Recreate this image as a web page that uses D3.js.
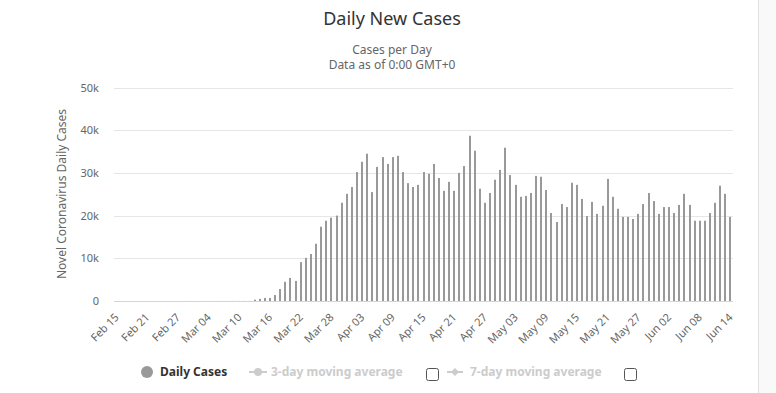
<!DOCTYPE html>
<html>
<head>
<meta charset="utf-8">
<script src="https://cdn.jsdelivr.net/npm/d3@7"></script>
<style>
  body { margin: 0; background: #fff; }
  svg { display: block; font-family: "Noto Sans", "DejaVu Sans", sans-serif; }
</style>
</head>
<body>
<svg id="chart"></svg>
<script>
// categories: one per day, Feb 15 .. Jun 14 2020
var startDay = new Date(2020, 1, 15), endDay = new Date(2020, 5, 15);
var days = d3.timeDay.range(startDay, endDay);

// daily new cases
var dailyCases = [
  0, 0, 0, 0, 0, 0, 0, 0, 0, 0, 3, 0, 1, 1, 8,
  2, 4, 5, 6, 8, 10, 12, 14, 16, 18, 22, 26,
  300, 500, 700, 700, 1400, 2800, 4500, 5400, 4700, 9100, 10100, 11000, 13400,
  17400, 18800, 19500, 20000, 23000, 25100, 26700, 30200, 32600, 34500, 25500,
  31400, 33700, 32100, 33700, 34000, 30200, 27600, 26700, 27200,
  30200, 29800, 32100, 28800, 25800, 27900, 25800, 30000, 31600, 38700, 35200,
  26300, 23000, 25300, 28400, 30700, 35900, 29500, 27200, 24400, 24600, 25300,
  29300, 29100, 26000, 20600, 18500, 22700, 22000, 27700, 27200,
  23900, 19900, 23200, 20400, 22300, 28600, 24400, 21600, 19700, 19700, 19200,
  20400, 22700, 25300, 23400, 20400, 22000, 22000, 20600, 22500, 25100, 22500,
  18800, 18800, 18800, 20600, 23000, 27000, 25100, 19700
];

var tickLabels = ["Feb 15", "Feb 21", "Feb 27", "Mar 04", "Mar 10", "Mar 16", "Mar 22",
  "Mar 28", "Apr 03", "Apr 09", "Apr 15", "Apr 21", "Apr 27", "May 03", "May 09",
  "May 15", "May 21", "May 27", "Jun 02", "Jun 08", "Jun 14"];
var yTicks = [0, 10000, 20000, 30000, 40000, 50000];

var legendItems = ["Daily Cases", "3-day moving average", "7-day moving average"];

var width = 776, height = 393;
var fmt = d3.timeFormat("%b %d");

var svg = d3.select("#chart").attr("width", width).attr("height", height);

// scrollbar strip on the right
svg.append("rect").attr("x", 758).attr("y", 0).attr("width", 18).attr("height", height)
  .attr("fill", "#f9f9f9");
svg.append("line").attr("x1", 758.5).attr("x2", 758.5).attr("y1", 0).attr("y2", height)
  .attr("stroke", "#e2e2e2");

var x = d3.scaleBand().domain(d3.range(days.length)).range([114, 733]).padding(0);
var y = d3.scaleLinear().domain([0, 50000]).range([301, 87.5]);

// grid
svg.append("g").selectAll("line").data(yTicks.slice(1)).join("line")
  .attr("x1", 114).attr("x2", 733)
  .attr("y1", d => Math.round(y(d)) + 0.5).attr("y2", d => Math.round(y(d)) + 0.5)
  .attr("stroke", "#e6e6e6");

// y labels
svg.append("g").selectAll("text").data(yTicks).join("text")
  .attr("x", 99).attr("y", d => y(d) + 4)
  .attr("text-anchor", "end").attr("font-size", 11).attr("fill", "#666")
  .text(d => d === 0 ? "0" : (d / 1000) + "k");

svg.append("text")
  .attr("transform", "translate(66,194) rotate(-90)")
  .attr("text-anchor", "middle").attr("font-size", 12).attr("fill", "#666")
  .text("Novel Coronavirus Daily Cases");

// bars
var bw = 2;
svg.append("g").selectAll("rect").data(dailyCases).join("rect")
  .attr("x", (d, i) => Math.round(x(i) + x.bandwidth() / 2 - bw / 2))
  .attr("width", bw)
  .attr("y", d => y(d))
  .attr("height", d => y(0) - y(d))
  .attr("fill", "#999999");

// x axis line
svg.append("line").attr("x1", 114).attr("x2", 733).attr("y1", 301.5).attr("y2", 301.5)
  .attr("stroke", "#ccd6eb");

// x labels
var tickIdx = days.map((d, i) => i).filter(i => tickLabels.indexOf(fmt(days[i])) >= 0);
svg.append("g").selectAll("text").data(tickIdx).join("text")
  .attr("transform", i => "translate(" + (x(i) + x.bandwidth() / 2 + 3) + ",318) rotate(-45)")
  .attr("text-anchor", "end").attr("font-size", 11).attr("fill", "#666")
  .text(i => fmt(days[i]));

// titles
svg.append("text").attr("x", 392).attr("y", 25).attr("text-anchor", "middle")
  .attr("font-size", 18).attr("fill", "#333").text("Daily New Cases");
svg.append("text").attr("x", 392).attr("y", 53.5).attr("text-anchor", "middle")
  .attr("font-size", 12).attr("fill", "#666").text("Cases per Day");
svg.append("text").attr("x", 392).attr("y", 68.5).attr("text-anchor", "middle")
  .attr("font-size", 12).attr("fill", "#666").text("Data as of 0:00 GMT+0");

// legend
var lg = svg.append("g").attr("font-size", 12).attr("font-weight", "bold");
lg.append("circle").attr("cx", 147).attr("cy", 372).attr("r", 6).attr("fill", "#999");
lg.append("text").attr("x", 160).attr("y", 376).attr("fill", "#333").text(legendItems[0]);

lg.append("line").attr("x1", 249).attr("x2", 267).attr("y1", 372).attr("y2", 372)
  .attr("stroke", "#ccc").attr("stroke-width", 2);
lg.append("circle").attr("cx", 258).attr("cy", 372).attr("r", 4).attr("fill", "#ccc");
lg.append("text").attr("x", 271).attr("y", 376).attr("fill", "#ccc").text(legendItems[1]);
lg.append("rect").attr("x", 426.5).attr("y", 368.5).attr("width", 12).attr("height", 12)
  .attr("rx", 2).attr("fill", "#fff").attr("stroke", "#555");

lg.append("line").attr("x1", 447).attr("x2", 463).attr("y1", 372).attr("y2", 372)
  .attr("stroke", "#ccc").attr("stroke-width", 2);
lg.append("path").attr("d", "M455,368L459,372L455,376L451,372Z").attr("fill", "#ccc");
lg.append("text").attr("x", 470).attr("y", 376).attr("fill", "#ccc").text(legendItems[2]);
lg.append("rect").attr("x", 624.5).attr("y", 368.5).attr("width", 12).attr("height", 12)
  .attr("rx", 2).attr("fill", "#fff").attr("stroke", "#555");
</script>
</body>
</html>
